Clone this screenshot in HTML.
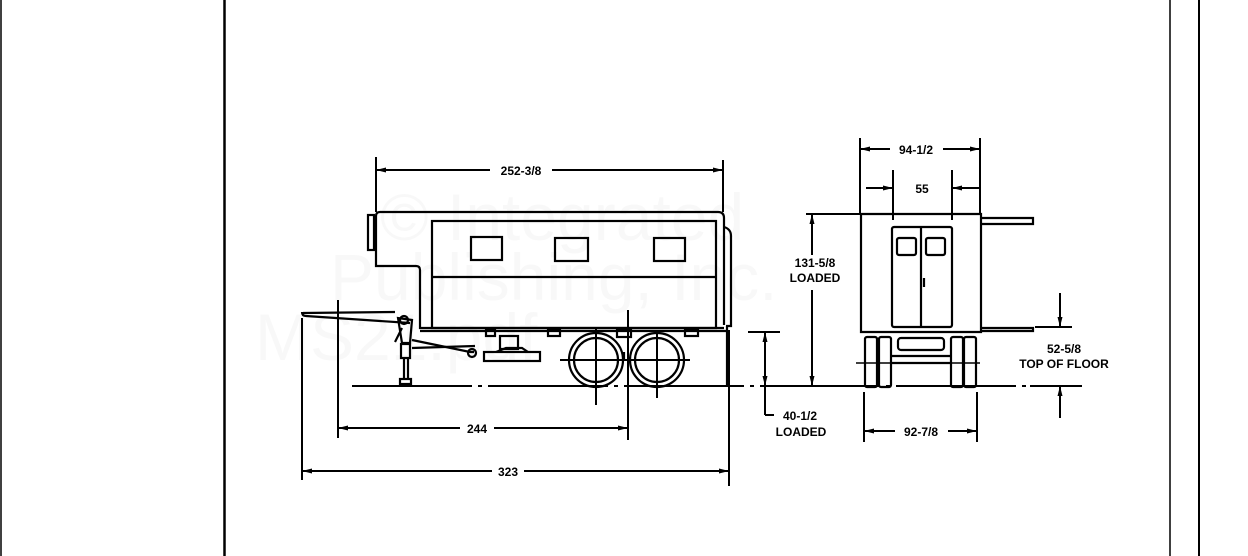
<!DOCTYPE html>
<html><head><meta charset="utf-8"><style>
html,body{margin:0;padding:0;background:#fff;}
svg{display:block;}
text{font-family:"Liberation Sans",sans-serif;fill:#000;}
</style></head><body>
<svg width="1248" height="556" viewBox="0 0 1248 556" xmlns="http://www.w3.org/2000/svg">
<defs>
<marker id="a" viewBox="0 0 10 6" refX="10" refY="3" markerWidth="11" markerHeight="6" orient="auto-start-reverse" markerUnits="userSpaceOnUse"><path d="M0,0.5 L10,3 L0,5.5 z" fill="#000"/></marker>
</defs>
<g fill="#000" opacity="0.025" font-family="Liberation Sans,sans-serif" font-size="66">
<text x="380" y="240">© Integrated</text>
<text x="330" y="300">Publishing, Inc.</text>
<text x="255" y="360">MS21.pdf</text>
</g>
<line x1="1" y1="0" x2="1" y2="556" stroke="#000" stroke-width="1.5"/>
<line x1="224.5" y1="0" x2="224.5" y2="556" stroke="#000" stroke-width="2.5"/>
<line x1="1170" y1="0" x2="1170" y2="556" stroke="#000" stroke-width="1.5"/>
<line x1="1199" y1="0" x2="1199" y2="556" stroke="#000" stroke-width="2"/>

<g stroke="#000" fill="none" stroke-width="2.2">
<path d="M380,212 H718 Q724,212 724,218 V325"/>
<path d="M376,216 Q376,212 380,212 M376,216 V266 H416 Q420,266 420,270 V328 H724"/>
<path d="M724,227 Q731,229 731,236 V326 H726"/>
<rect x="432" y="221" width="284" height="107"/>
<line x1="432" y1="277" x2="716" y2="277"/>
<rect x="471" y="237" width="31" height="23"/>
<rect x="555" y="238" width="33" height="23"/>
<rect x="654" y="238" width="31" height="23"/>
<rect x="368" y="215" width="6" height="35"/>
<rect x="486" y="330" width="9" height="6"/>
<rect x="548" y="330" width="12" height="6"/>
<rect x="617" y="330" width="14" height="7"/>
<rect x="685" y="330" width="13" height="6"/>
<line x1="420" y1="331" x2="726" y2="331"/>
<path d="M302,312 Q302,316 306,316 L410,323"/>
<path d="M303,313 L395,312"/>
<path d="M412,340 L470,352 L474,352"/>
<path d="M412,348 L475,346"/>
<circle cx="472" cy="353" r="4"/>
<path d="M398,318 L402,343 L410,343 L412,320 Z"/>
<circle cx="404" cy="320" r="4"/>
<path d="M402,328 L395,342"/>
<rect x="401" y="344" width="9" height="14"/>
<line x1="404" y1="358" x2="404" y2="379"/>
<line x1="408" y1="358" x2="408" y2="379"/>
<rect x="400" y="379" width="11" height="5"/>
<rect x="500" y="336" width="18" height="13"/>
<rect x="484" y="352" width="56" height="9"/>
<path d="M496,352 L506,348 L522,348 L528,352"/>
<circle cx="596" cy="360" r="27"/>
<circle cx="596" cy="360" r="22"/>
<circle cx="657" cy="360" r="27"/>
<circle cx="657" cy="360" r="22"/>
<line x1="624" y1="352" x2="624" y2="360"/>
<line x1="727" y1="326" x2="727" y2="386"/>
</g>
<g stroke="#000" stroke-width="2">
<line x1="596" y1="328" x2="596" y2="405"/>
<line x1="657" y1="330" x2="657" y2="398"/>
<line x1="560" y1="360" x2="690" y2="360"/>
<line x1="628" y1="310" x2="628" y2="440"/>
</g>
<line x1="352" y1="386" x2="1082" y2="386" stroke="#000" stroke-width="2" stroke-dasharray="120,6,4,6"/>

<g stroke="#000" stroke-width="2" fill="none">
<line x1="376" y1="157" x2="376" y2="212"/>
<line x1="723" y1="160" x2="723" y2="212"/>
<line x1="376" y1="170" x2="490" y2="170" marker-start="url(#a)"/>
<line x1="552" y1="170" x2="723" y2="170" marker-end="url(#a)"/>
<line x1="338" y1="300" x2="338" y2="438"/>
<line x1="338" y1="428" x2="460" y2="428" marker-start="url(#a)"/>
<line x1="494" y1="428" x2="628" y2="428" marker-end="url(#a)"/>
<line x1="302" y1="318" x2="302" y2="480"/>
<line x1="729" y1="330" x2="729" y2="486"/>
<line x1="302" y1="471" x2="492" y2="471" marker-start="url(#a)"/>
<line x1="524" y1="471" x2="729" y2="471" marker-end="url(#a)"/>
<line x1="860" y1="138" x2="860" y2="214"/>
<line x1="980" y1="138" x2="980" y2="214"/>
<line x1="860" y1="149" x2="890" y2="149" marker-start="url(#a)"/>
<line x1="943" y1="149" x2="980" y2="149" marker-end="url(#a)"/>
<line x1="893" y1="170" x2="893" y2="220"/>
<line x1="952" y1="170" x2="952" y2="220"/>
<line x1="866" y1="188" x2="893" y2="188" marker-end="url(#a)"/>
<line x1="979" y1="188" x2="952" y2="188" marker-end="url(#a)"/>
<line x1="806" y1="214" x2="860" y2="214"/>
<line x1="812" y1="214" x2="812" y2="255" marker-start="url(#a)"/>
<line x1="812" y1="290" x2="812" y2="386" marker-end="url(#a)"/>
<line x1="748" y1="332" x2="780" y2="332"/>
<line x1="765" y1="332" x2="765" y2="386" marker-start="url(#a)" marker-end="url(#a)"/>
<line x1="765" y1="386" x2="765" y2="415"/>
<line x1="765" y1="415" x2="774" y2="415"/>
<line x1="864" y1="392" x2="864" y2="442"/>
<line x1="977" y1="392" x2="977" y2="442"/>
<line x1="864" y1="431" x2="895" y2="431" marker-start="url(#a)"/>
<line x1="948" y1="431" x2="977" y2="431" marker-end="url(#a)"/>
<line x1="1035" y1="327" x2="1072" y2="327"/>
<line x1="1060" y1="293" x2="1060" y2="327" marker-end="url(#a)"/>
<line x1="1060" y1="418" x2="1060" y2="386" marker-end="url(#a)"/>
<line x1="1030" y1="386" x2="1075" y2="386"/>
</g>

<g stroke="#000" fill="none" stroke-width="2.2">
<path d="M861,214 H981 V332 H861 Z"/>
<rect x="892" y="227" width="60" height="100" rx="2"/>
<line x1="921" y1="227" x2="921" y2="327"/>
<rect x="897" y="238" width="19" height="17" rx="2"/>
<rect x="926" y="238" width="19" height="17" rx="2"/>
<line x1="924" y1="278" x2="924" y2="287"/>
<path d="M982,218 H1033 V224 H982"/>
<path d="M982,328 H1033 V331 H982"/>
<rect x="865" y="337" width="12" height="50" rx="2"/>
<rect x="879" y="337" width="12" height="50" rx="2"/>
<rect x="951" y="337" width="12" height="50" rx="2"/>
<rect x="964" y="337" width="12" height="50" rx="2"/>
<rect x="898" y="338" width="46" height="12" rx="3"/>
<line x1="891" y1="356" x2="951" y2="356"/>
<line x1="891" y1="363" x2="951" y2="363"/>
<line x1="856" y1="363" x2="980" y2="363" stroke-width="1.4"/>
</g>

<g font-size="12" font-weight="bold" text-anchor="middle" transform="scale(1,1)" style="font-stretch:condensed">
<text x="521" y="175">252-3/8</text>
<text x="477" y="433">244</text>
<text x="508" y="476">323</text>
<text x="916" y="154">94-1/2</text>
<text x="922" y="193">55</text>
<text x="815" y="267">131-5/8</text>
<text x="815" y="282">LOADED</text>
<text x="800" y="420">40-1/2</text>
<text x="801" y="436">LOADED</text>
<text x="921" y="436">92-7/8</text>
<text x="1064" y="353">52-5/8</text>
<text x="1064" y="368">TOP OF FLOOR</text>
</g>
</svg>
</body></html>
